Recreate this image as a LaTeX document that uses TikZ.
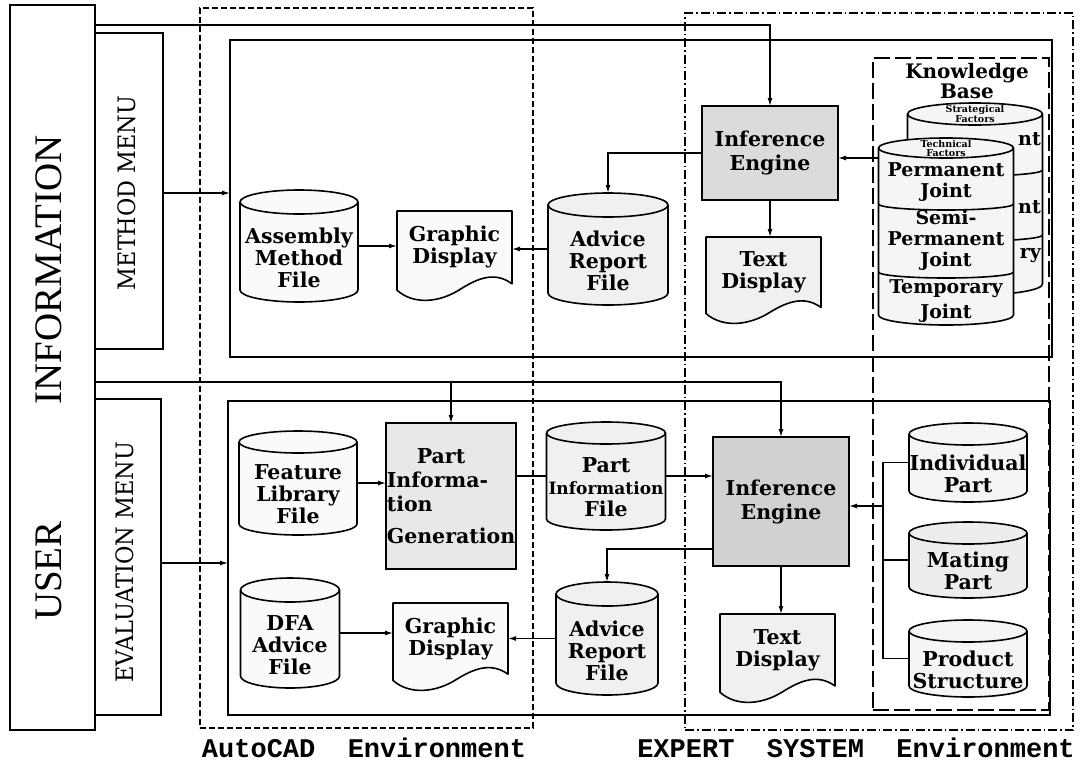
\documentclass[tikz,border=0pt]{standalone}
\usepackage{fontspec}
\usepackage{graphicx}
\newfontfamily\monofont{Liberation Mono}
\newfontfamily\boxfont{DejaVu Serif}
\newfontfamily\lblfont{Liberation Serif}
\usetikzlibrary{arrows.meta,calc}

\tikzset{
  shp/.style={line width=1.6pt, line join=round},
  frame/.style={draw, line width=1.1pt, inner sep=0pt, outer sep=0pt, anchor=north west},
  proc/.style={draw, line width=1.6pt, inner sep=0pt, outer sep=0pt, anchor=north west, align=center, font=\boxfont\bfseries\fontsize{20.5}{24}\selectfont},
  conn/.style={line width=1.3pt},
  arr/.style={conn, -{Latex[length=8pt,width=5pt]}},
  txt/.style={align=center, inner sep=0pt, font=\boxfont\bfseries\fontsize{20.5}{22}\selectfont},
  kbtxt/.style={align=center, inner sep=0pt, font=\boxfont\bfseries\fontsize{19}{21}\selectfont},
  tinytxt/.style={align=center, inner sep=0pt, font=\boxfont\bfseries\fontsize{9.5}{9}\selectfont},
  ghost/.style={draw=none, inner sep=0pt, outer sep=0pt},
  biglbl/.style={inner sep=0pt, font=\lblfont\fontsize{39}{42}\selectfont},
  menulbl/.style={inner sep=0pt, font=\boxfont\fontsize{24}{26}\selectfont},
  envlbl/.style={inner sep=0pt, font=\monofont\bfseries\fontsize{27}{30}\selectfont},
}

% name, cx, top, w, h, ry, fill, text
\newcommand\cylnd[8]{%
  \filldraw[shp, fill=#7] (#2-#4/2,-#3-#6) -- (#2-#4/2,-#3-#5+#6)
     arc[start angle=180,end angle=360,x radius=#4/2,y radius=#6]
     -- (#2+#4/2,-#3-#6)
     arc[start angle=0,end angle=180,x radius=#4/2,y radius=#6] -- cycle;
  \draw[shp] (#2-#4/2,-#3-#6) arc[start angle=180,end angle=360,x radius=#4/2,y radius=#6];
  \node[ghost, minimum width=#4, minimum height=#5] (#1) at (#2,-#3-#5/2) {};
  \node[txt] (#1t) at (#2,-#3-#5/2-#6) {#8};
}
% name, x0, y0, w, h, fill, text
\newcommand\docnd[7]{%
  \filldraw[shp, fill=#6] (#2,-#3) -- (#2+#4,-#3) -- (#2+#4,-#3-0.8*#5)
    .. controls (#2+0.85*#4,-#3-0.66*#5) and (#2+0.7*#4,-#3-0.74*#5) .. (#2+0.55*#4,-#3-0.86*#5)
    .. controls (#2+0.38*#4,-#3-1.0*#5) and (#2+0.15*#4,-#3-1.04*#5) .. (#2,-#3-0.87*#5) -- cycle;
  \node[ghost, minimum width=#4, minimum height=#5, anchor=north west] (#1) at (#2,-#3) {};
  \node[txt] (#1t) at (#2+#4/2,-#3-0.4*#5) {#7};
}

\begin{document}
\begin{tikzpicture}[x=1pt,y=1pt]
\useasboundingbox (0,0) rectangle (1086,-766);

% ---------- left labels ----------
\node[frame, minimum width=85, minimum height=725] (user) at (10,-5) {};
\node[biglbl, rotate=90] (userl) at (49,-571) {USER};
\node[biglbl, rotate=90] (infol) at (49,-270) {INFORMATION};
\node[frame, minimum width=68, minimum height=316] (mm) at (95,-33) {};
\node[menulbl, rotate=90] (mml) at (127,-193) {\scalebox{0.93}[1]{METHOD MENU}};
\node[frame, minimum width=66, minimum height=316] (em) at (95,-399) {};
\node[menulbl, rotate=90] (eml) at (125,-562) {\scalebox{0.935}[1]{EVALUATION MENU}};

% ---------- environment frames ----------
\node[frame, dash pattern=on 6pt off 3pt] (acad) at (200,-8) [minimum width=333, minimum height=720] {};
\node[frame, dash pattern=on 9pt off 3pt on 1.5pt off 3pt] (expt) at (685,-13) [minimum width=388, minimum height=717] {};
\node[frame] (topbox) at (230,-40) [minimum width=822, minimum height=317] {};
\node[frame] (botbox) at (228,-401) [minimum width=822, minimum height=314] {};
\node[frame, line width=1.4pt, dash pattern=on 16pt off 5pt] (kbox) at (873,-58) [minimum width=176, minimum height=652] {};

\node[envlbl] (acadl) at (364,-748) {AutoCAD~~Environment};
\node[envlbl] (exptl) at (856,-748) {EXPERT~~SYSTEM~~Environment};

% ---------- method section ----------
\node[proc, fill=black!14, minimum width=136, minimum height=94] (ie1) at (702,-106) {Inference\\Engine};
\cylnd{arf1}{608}{193}{120}{112}{12}{black!6}{Advice\\Report\\File}
\docnd{gd1}{397}{211}{115}{91}{black!2}{Graphic\\Display}
\cylnd{asm}{299}{190}{118}{112}{12}{black!2}{Assembly\\Method\\File}
\docnd{td1}{706}{237}{115}{88}{black!6}{Text\\Display}

\node[txt, font=\boxfont\bfseries\fontsize{20}{19}\selectfont] (kbl) at (967,-81) {Knowledge\\Base};

% back knowledge cylinder
\cylnd{kbb}{975}{103}{135}{192}{11}{black!4}{}
\node[tinytxt] (kbbh) at (975,-114) {Strategical\\Factors};
\draw[shp] (907.5,-170) arc[start angle=180,end angle=360,x radius=67.5,y radius=6];
\draw[shp] (907.5,-235) arc[start angle=180,end angle=360,x radius=67.5,y radius=6];

% front knowledge cylinder
\cylnd{kbf}{946}{138}{135}{187}{10}{black!4}{}
\node[tinytxt] (kbfh) at (946,-148) {Technical\\Factors};
\node[kbtxt] (kbf1) at (946,-182) {Permanent\\Joint};
\draw[shp] (878.5,-204) arc[start angle=180,end angle=360,x radius=67.5,y radius=6];
\node[kbtxt] (kbf2) at (946,-240) {Semi-\\Permanent\\Joint};
\draw[shp] (878.5,-272) arc[start angle=180,end angle=360,x radius=67.5,y radius=6];
\node[kbtxt] (kbf3) at (946,-301) {Temporary\\[4pt]Joint};

% parts of the back cylinder's labels that show past the front one
\node[kbtxt, anchor=base east] (kbb1) at (1041,-145) {nt};
\node[kbtxt, anchor=base east] (kbb2) at (1041,-213) {nt};
\node[kbtxt, anchor=base east] (kbb3) at (1041,-258) {ry};

% method connectors
\coordinate (ytop) at (0,-25);
\coordinate (ymm) at (0,-193);
\coordinate (ykb) at (0,-158);
\draw[arr] (user.east |- ytop) -- (ie1.north |- ytop) -- (ie1.north);
\draw[arr] (mm.east |- ymm) -- (topbox.west |- ymm);
\draw[arr] (ie1.west) -| (arf1.north);
\draw[arr] (asm.east) -- (asm.east -| gd1.west);
\draw[arr] (arf1.west) -- (arf1.west -| gd1.east);
\draw[arr] (ie1.south) -- (ie1.south |- td1.north);
\draw[arr] (kbf.west |- ykb) -- (ie1.east |- ykb);

% ---------- evaluation section ----------
\node[proc, fill=black!18, minimum width=136, minimum height=129] (ie2) at (713,-437) {Inference\\Engine};
\node[proc, fill=black!9, minimum width=130, minimum height=146, align=left] (pig) at (386,-423)
  {\hspace*{30pt}Part\\Informa-\\tion\\[8pt]Generation};
\cylnd{fl}{298}{431}{118}{104}{11}{black!2}{Feature\\Library\\File}
\cylnd{pif}{606}{422}{119}{108}{11}{black!6}{Part\\{\fontsize{17}{18}\selectfont Information}\\File}
\cylnd{arf2}{607}{582}{102}{113}{12}{black!6}{Advice\\Report\\File}
\docnd{gd2}{393}{603}{115}{89}{black!2}{Graphic\\Display}
\cylnd{dfa}{290}{578}{99}{110}{12}{black!2}{DFA\\Advice\\File}
\docnd{td2}{720}{614}{115}{90}{black!6}{Text\\Display}
\cylnd{ind}{968}{423}{118}{79}{11}{black!4}{Individual\\Part}
\cylnd{mat}{968}{522}{118}{76}{11}{black!7}{Mating\\Part}
\cylnd{prd}{968}{620}{118}{77}{11}{black!4}{Product\\Structure}

% evaluation connectors
\coordinate (ybot) at (0,-382);
\coordinate (yem) at (0,-563);
\coordinate (yarf) at (0,-549);
\coordinate (bus) at (883,-506);
\draw[arr] (user.east |- ybot) -- (ie2.north |- ybot) -- (ie2.north);
\draw[arr] (pig.north |- ybot) -- (pig.north);
\draw[arr] (em.east |- yem) -- (botbox.west |- yem);
\draw[arr] (fl.east) -- (fl.east -| pig.west);
\draw[conn] (pif.west -| pig.east) -- (pif.west);
\draw[arr] (pif.east) -- (pif.east -| ie2.west);
\draw[arr] (ie2.west |- yarf) -| (arf2.north);
\draw[arr] (arf2.west) -- (arf2.west -| gd2.east);
\draw[arr] (dfa.east) -- (dfa.east -| gd2.west);
\draw[arr] (ie2.south) -- (ie2.south |- td2.north);
\draw[conn] (ind.west) -| (bus) |- (prd.west);
\draw[conn] (mat.west) -- (mat.west -| bus);
\draw[arr] (bus) -- (bus -| ie2.east);
\end{tikzpicture}
\end{document}
